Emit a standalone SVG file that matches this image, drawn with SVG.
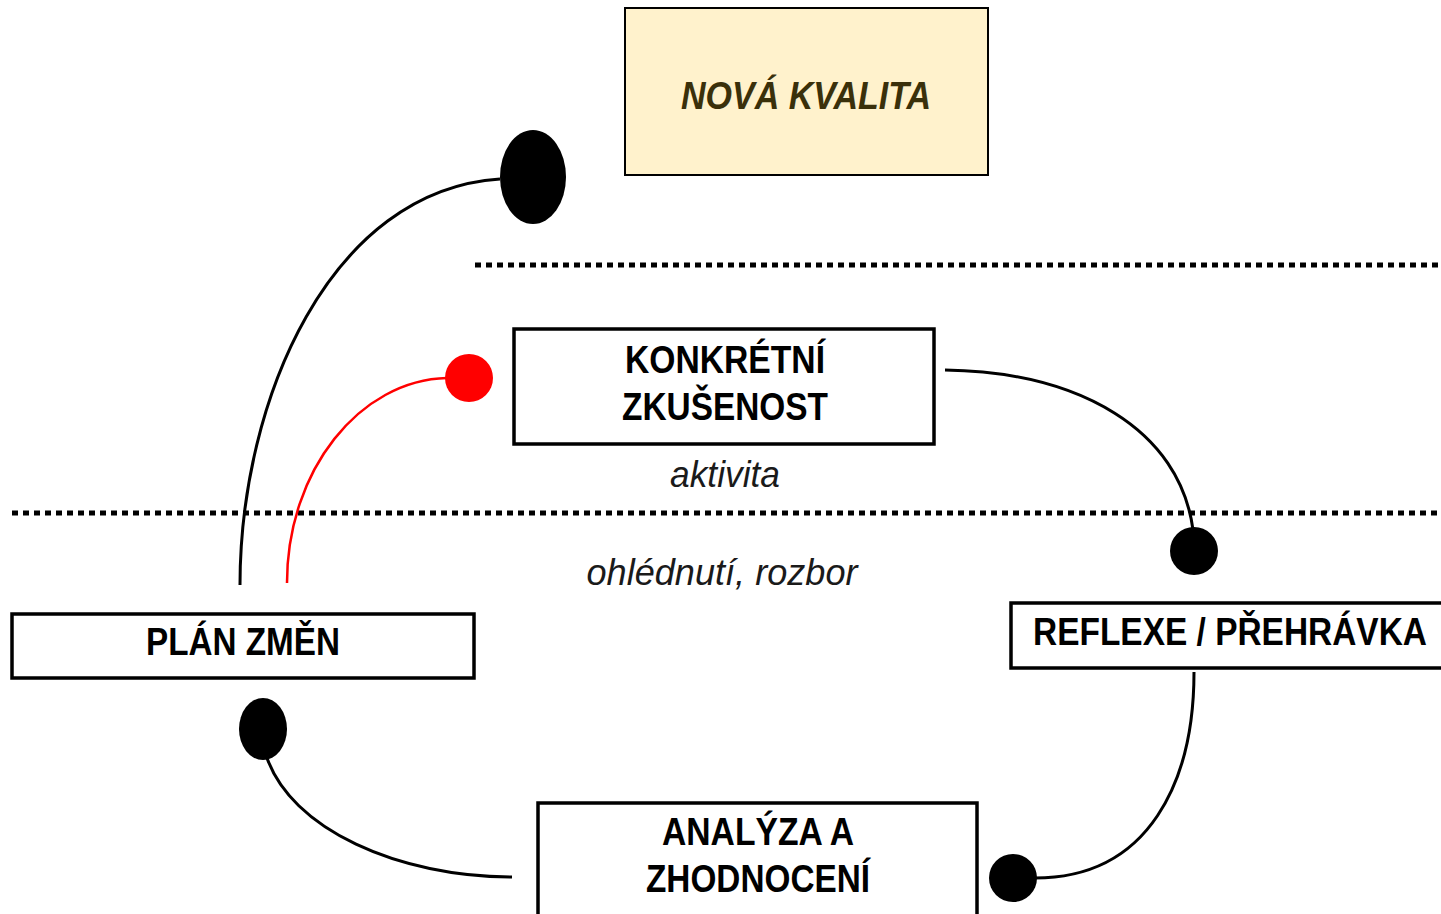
<svg xmlns="http://www.w3.org/2000/svg" width="1441" height="914" viewBox="0 0 1441 914">
<style>
.box{fill:#fff;stroke:#000;stroke-width:3.5}
.t{font-family:"Liberation Sans",Arial,sans-serif;font-weight:bold;font-size:38px;fill:#000;text-anchor:middle}
.it{font-family:"Liberation Sans",Arial,sans-serif;font-style:italic;font-size:37px;fill:#1a1a1a;text-anchor:middle}
.dot{stroke:#000;stroke-width:5;stroke-dasharray:6 5;fill:none}
.c{fill:none;stroke:#000;stroke-width:3}
</style>
<rect width="1441" height="914" fill="#fff"/>
<g id="dividers">
<line class="dot" x1="475" y1="265" x2="1441" y2="265"/>
<line class="dot" x1="12" y1="513" x2="1441" y2="513"/>
</g>
<g id="connectors">
<path class="c" d="M240,585 C240,400 330,190 500,179"/>
<ellipse cx="533" cy="177" rx="33" ry="47" fill="#000"/>
<path d="M287,583 C287,470 360,380 447,378" fill="none" stroke="#f00" stroke-width="2.5"/>
<circle cx="469" cy="378" r="24" fill="#f00"/>
<path class="c" d="M945,370 C1080,372 1180,430 1193,530"/>
<circle cx="1194" cy="551" r="24" fill="#000"/>
<path class="c" d="M1194,672 C1194,780 1150,878 1035,878"/>
<circle cx="1013" cy="878" r="24" fill="#000"/>
<path class="c" d="M512,877 C400,877 290,830 266,755"/>
<ellipse cx="263" cy="729" rx="24" ry="31" fill="#000"/>
</g>
<g id="nova-kvalita">
<rect x="625" y="8" width="363" height="167" fill="#fff2cc" stroke="#000" stroke-width="2"/>
<text x="806" y="109" class="t" font-style="italic" fill="#3a300a" style="fill:#3a300a" textLength="250" lengthAdjust="spacingAndGlyphs">NOVÁ KVALITA</text>
</g>
<g id="konkretni-zkusenost">
<rect class="box" x="514" y="329" width="420" height="115" stroke-width="4"/>
<text x="725" y="373" class="t" textLength="200" lengthAdjust="spacingAndGlyphs">KONKRÉTNÍ</text>
<text x="725" y="420" class="t" textLength="206" lengthAdjust="spacingAndGlyphs">ZKUŠENOST</text>
</g>
<g id="labels">
<text x="725" y="487" class="it" textLength="110" lengthAdjust="spacingAndGlyphs">aktivita</text>
<text x="722" y="585" class="it" textLength="271" lengthAdjust="spacingAndGlyphs">ohlédnutí, rozbor</text>
</g>
<g id="plan-zmen">
<rect class="box" x="12" y="614" width="462" height="64"/>
<text x="243" y="655" class="t" textLength="194" lengthAdjust="spacingAndGlyphs">PLÁN ZMĚN</text>
</g>
<g id="reflexe">
<rect class="box" x="1011" y="603" width="440" height="65"/>
<text x="1230" y="645" class="t" textLength="394" lengthAdjust="spacingAndGlyphs">REFLEXE / PŘEHRÁVKA</text>
</g>
<g id="analyza">
<rect class="box" x="538" y="803" width="439" height="120"/>
<text x="758" y="845" class="t" textLength="192" lengthAdjust="spacingAndGlyphs">ANALÝZA A</text>
<text x="758" y="892" class="t" textLength="224" lengthAdjust="spacingAndGlyphs">ZHODNOCENÍ</text>
</g>
</svg>
